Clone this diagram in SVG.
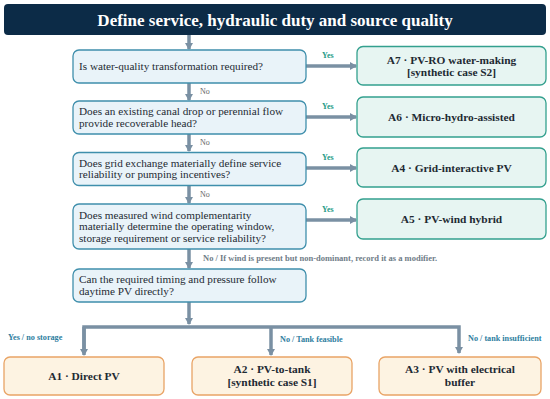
<svg xmlns="http://www.w3.org/2000/svg" width="550" height="399" viewBox="0 0 550 399">
<defs>
<marker id="ah" markerWidth="8" markerHeight="8" refX="6" refY="4" orient="auto" markerUnits="userSpaceOnUse">
<path d="M0,0 L7,4 L0,8 Z" fill="#7a90a3"/>
</marker>
<style>
.q{fill:#e9f3f9;stroke:#3f8fac;stroke-width:1.3}
.a{fill:#e7f5f2;stroke:#33a08e;stroke-width:1.3}
.b{fill:#fdf3e2;stroke:#e9a466;stroke-width:1.3}
.qt{font-family:"Liberation Serif",serif;font-size:11.2px;fill:#1e2a33}
.at{font-family:"Liberation Serif",serif;font-size:11.4px;font-weight:bold;fill:#1e2a33;text-anchor:middle}
.ln{stroke:#7a90a3;stroke-width:3.5;fill:none}
.yes{font-family:"Liberation Serif",serif;font-size:8px;font-weight:bold;fill:#1f9b87}
.no{font-family:"Liberation Serif",serif;font-size:8px;fill:#666}
.nw{font-family:"Liberation Serif",serif;font-size:8.5px;font-weight:bold;fill:#6f7d88}
.bl{font-family:"Liberation Serif",serif;font-size:8.2px;font-weight:bold;fill:#2e7ea0}
</style>
</defs>
<rect width="550" height="399" fill="#ffffff"/>
<g id="title">
<rect x="4" y="4" width="542" height="31" rx="4" fill="#0c2b47"/>
<text x="275" y="25.5" text-anchor="middle" font-family="Liberation Serif, serif" font-size="17" font-weight="bold" fill="#ffffff">Define service, hydraulic duty and source quality</text>
</g>
<g id="connectors">
<line class="ln" x1="189" y1="35" x2="189" y2="49" marker-end="url(#ah)"/>
<line class="ln" x1="189" y1="83" x2="189" y2="100" marker-end="url(#ah)"/>
<line class="ln" x1="189" y1="134" x2="189" y2="151" marker-end="url(#ah)"/>
<line class="ln" x1="189" y1="186" x2="189" y2="203" marker-end="url(#ah)"/>
<line class="ln" x1="189" y1="249" x2="189" y2="268" marker-end="url(#ah)"/>
<line class="ln" x1="306" y1="66" x2="356" y2="66" marker-end="url(#ah)"/>
<line class="ln" x1="306" y1="117" x2="356" y2="117" marker-end="url(#ah)"/>
<line class="ln" x1="306" y1="168" x2="356" y2="168" marker-end="url(#ah)"/>
<line class="ln" x1="306" y1="220" x2="356" y2="220" marker-end="url(#ah)"/>
<line class="ln" x1="189" y1="302" x2="189" y2="324" marker-end="url(#ah)"/>
<polyline class="ln" points="84,353 84,327 459,327 459,353" marker-end="url(#ah)"/>
<line class="ln" x1="84" y1="327" x2="84" y2="355" marker-end="url(#ah)"/>
<line class="ln" x1="271" y1="327" x2="271" y2="355" marker-end="url(#ah)"/>
<text class="yes" x="322" y="58">Yes</text>
<text class="yes" x="322" y="109">Yes</text>
<text class="yes" x="322" y="160">Yes</text>
<text class="yes" x="322" y="211.5">Yes</text>
<text class="no" x="200" y="93.5">No</text>
<text class="no" x="200" y="145">No</text>
<text class="no" x="200" y="196.5">No</text>
<text class="nw" x="203" y="261">No / If wind is present but non-dominant, record it as a modifier.</text>
<text class="bl" x="8" y="339.5">Yes / no storage</text>
<text class="bl" x="280" y="341.5">No / Tank feasible</text>
<text class="bl" x="468" y="340.5">No / tank insufficient</text>
</g>
<g id="q1">
<rect class="q" x="73" y="50" width="233" height="33" rx="6"/>
<text class="qt" x="79" y="69.5">Is water-quality transformation required?</text>
</g>
<g id="q2">
<rect class="q" x="73" y="101" width="233" height="33" rx="6"/>
<text class="qt" x="79" y="115">Does an existing canal drop or perennial flow</text>
<text class="qt" x="79" y="126.5">provide recoverable head?</text>
</g>
<g id="q3">
<rect class="q" x="73" y="152.5" width="233" height="33" rx="6"/>
<text class="qt" x="79" y="166.5">Does grid exchange materially define service</text>
<text class="qt" x="79" y="178">reliability or pumping incentives?</text>
</g>
<g id="q4">
<rect class="q" x="73" y="204" width="233" height="45" rx="6"/>
<text class="qt" x="79" y="218.5">Does measured wind complementarity</text>
<text class="qt" x="79" y="230">materially determine the operating window,</text>
<text class="qt" x="79" y="241.5">storage requirement or service reliability?</text>
</g>
<g id="q5">
<rect class="q" x="73" y="269" width="233" height="33" rx="6"/>
<text class="qt" x="79" y="283">Can the required timing and pressure follow</text>
<text class="qt" x="79" y="294.5">daytime PV directly?</text>
</g>
<g id="a7">
<rect class="a" x="357" y="46.5" width="189" height="38.5" rx="6"/>
<text class="at" x="451.5" y="63.5">A7 · PV-RO water-making</text>
<text class="at" x="451.5" y="76">[synthetic case S2]</text>
</g>
<g id="a6">
<rect class="a" x="357" y="97" width="189" height="40" rx="6"/>
<text class="at" x="451.5" y="121">A6 · Micro-hydro-assisted</text>
</g>
<g id="a4">
<rect class="a" x="357" y="148" width="189" height="39" rx="6"/>
<text class="at" x="451.5" y="171.5">A4 · Grid-interactive PV</text>
</g>
<g id="a5">
<rect class="a" x="357" y="199" width="189" height="40" rx="6"/>
<text class="at" x="451.5" y="223">A5 · PV-wind hybrid</text>
</g>
<g id="a1">
<rect class="b" x="4" y="357" width="160" height="38" rx="6"/>
<text class="at" x="84" y="380">A1 · Direct PV</text>
</g>
<g id="a2">
<rect class="b" x="192" y="357" width="160" height="38" rx="6"/>
<text class="at" x="272" y="373">A2 · PV-to-tank</text>
<text class="at" x="272" y="386">[synthetic case S1]</text>
</g>
<g id="a3">
<rect class="b" x="379" y="357" width="162" height="38" rx="6"/>
<text class="at" x="460" y="373">A3 · PV with electrical</text>
<text class="at" x="460" y="386">buffer</text>
</g>
</svg>
